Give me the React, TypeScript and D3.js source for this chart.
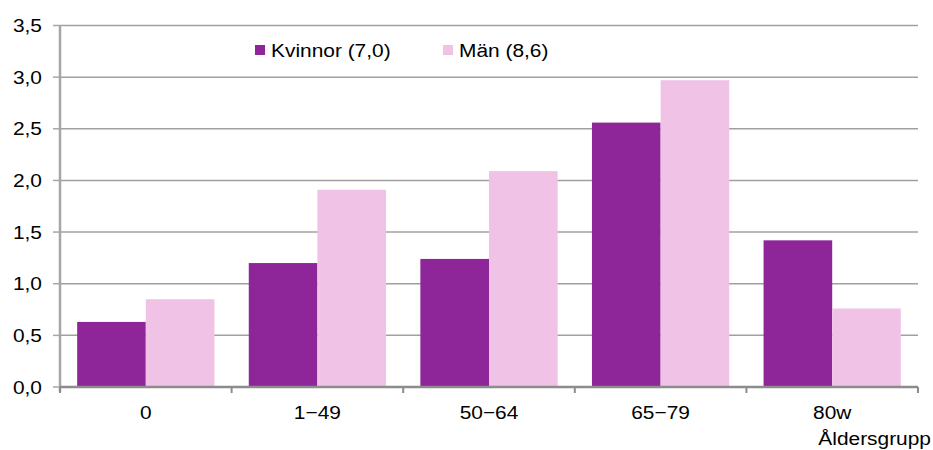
import React from "react";
import * as d3 from "d3";

const categories = ["0", "1−49", "50−64", "65−79", "80w"];
const kvinnor = [0.63, 1.2, 1.24, 2.56, 1.42];
const man = [0.85, 1.91, 2.09, 2.97, 0.76];
const yTicks = [0, 0.5, 1.0, 1.5, 2.0, 2.5, 3.0, 3.5];
const seriesNames = ["Kvinnor (7,0)", "Män (8,6)"];
const xTitle = "Åldersgrupp";

const W = 933;
const H = 450;
const left = 60;
const right = 918;
const top = 25.5;
const bottom = 387;
const purple = "#8E2699";
const pink = "#F0C3E6";
const font = "Liberation Sans, Arial, sans-serif";

function T({ x, y, anchor = "start", children }: { x: number; y: number; anchor?: string; children: React.ReactNode }) {
  return (
    <text
      transform={`translate(${x},${y}) scale(1.1,1)`}
      textAnchor={anchor}
      fontFamily={font}
      fontSize={19}
      fill="#000"
    >
      {children}
    </text>
  );
}

export default function App() {
  const x = d3.scaleBand<string>().domain(categories).range([left, right]).paddingInner(0).paddingOuter(0);
  const y = d3.scaleLinear().domain([0, 3.5]).range([bottom, top]);
  const bw = x.bandwidth();
  const pad = bw * 0.1;
  const barW = (bw - 2 * pad) / 2;
  const fmt = (v: number) => v.toFixed(1).replace(".", ",");

  return (
    <svg width={W} height={H} style={{ position: "absolute", left: 0, top: 0, background: "#fff" }}>
      {yTicks.map((t) => (
        <g key={t}>
          {t > 0 && <line x1={left} x2={right} y1={y(t)} y2={y(t)} stroke="#A0A0A0" strokeWidth={1.5} />}
          <line x1={53} x2={left} y1={y(t)} y2={y(t)} stroke="#A6A6A6" strokeWidth={1.5} />
          <T x={42} y={y(t) + 6.5} anchor="end">
            {fmt(t)}
          </T>
        </g>
      ))}
      {categories.map((c, i) => (
        <g key={c}>
          <rect x={x(c)! + pad} y={y(kvinnor[i])} width={barW} height={bottom - y(kvinnor[i])} fill={purple} />
          <rect x={x(c)! + pad + barW} y={y(man[i])} width={barW} height={bottom - y(man[i])} fill={pink} />
          <T x={x(c)! + bw / 2} y={419} anchor="middle">
            {c}
          </T>
        </g>
      ))}
      <line x1={left} x2={left} y1={top} y2={bottom + 5} stroke="#A6A6A6" strokeWidth={2.5} />
      <line x1={left} x2={right} y1={bottom} y2={bottom} stroke="#8C8C8C" strokeWidth={2.5} />
      {[...categories.map((c) => x(c)!), right].map((v, i) => (
        <line key={i} x1={v} x2={v} y1={bottom} y2={bottom + 6} stroke="#8C8C8C" strokeWidth={2} />
      ))}
      <T x={931} y={445} anchor="end">
        {xTitle}
      </T>
      <rect x={255} y={45} width={10} height={10} fill={purple} />
      <T x={271} y={57}>{seriesNames[0]}</T>
      <rect x={443} y={45} width={10} height={10} fill={pink} />
      <T x={459} y={57}>{seriesNames[1]}</T>
    </svg>
  );
}
